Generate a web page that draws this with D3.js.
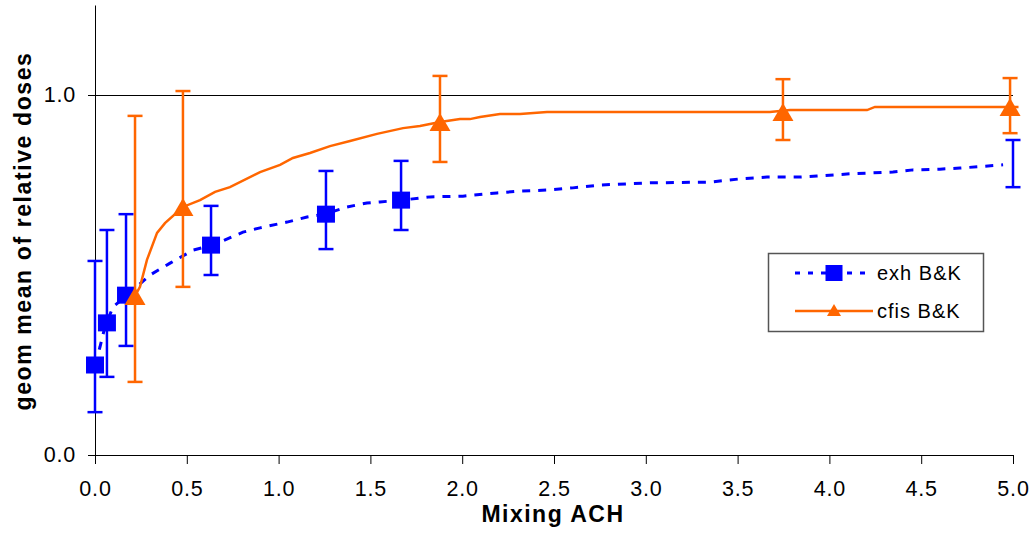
<!DOCTYPE html>
<html><head><meta charset="utf-8">
<script src="https://cdn.jsdelivr.net/npm/d3@7"></script>
<style>
html,body{margin:0;padding:0;background:#fff;}
svg{display:block;font-family:"Liberation Sans",Arial,sans-serif;}
</style></head>
<body>
<svg id="chart" width="1035" height="535"></svg>
<script>
// ---- data ----
const xTicks = [0, 0.5, 1.0, 1.5, 2.0, 2.5, 3.0, 3.5, 4.0, 4.5, 5.0];
const yTicks = [0, 1.0];
const seriesNames = ["exh B&K", "cfis B&K"];

// exh B&K curve
const exhCurveX = [0,0.027,0.054,0.098,0.174,0.300,0.409,0.534,0.643,0.806,0.899,1.046,1.155,1.253,1.373,1.481,1.552,1.672,1.825,2.004,2.190,2.315,2.462,2.603,2.751,3.023,3.350,3.513,3.660,3.840,3.932,4.112,4.205,4.346,4.455,4.602,4.711,4.946];
const exhCurveY = [0.25,0.30,0.356,0.411,0.444,0.50,0.533,0.569,0.583,0.619,0.631,0.647,0.661,0.669,0.689,0.70,0.703,0.708,0.717,0.719,0.728,0.733,0.736,0.742,0.75,0.756,0.758,0.767,0.772,0.772,0.775,0.781,0.783,0.786,0.792,0.794,0.797,0.806];
// exh B&K markers
const exhMarkX = [0, 0.065, 0.169, 0.632, 1.258, 1.667];
const exhMarkY = [0.25, 0.367, 0.444, 0.583, 0.669, 0.708];
// exh B&K error bars
const exhErrX  = [0, 0.065, 0.169, 0.632, 1.258, 1.667, 5.0];
const exhErrHi = [0.539, 0.625, 0.669, 0.692, 0.789, 0.817, 0.875];
const exhErrLo = [0.119, 0.217, 0.303, 0.500, 0.572, 0.625, 0.744];

// cfis B&K curve
const cfisCurveX = [0.218,0.245,0.283,0.338,0.381,0.479,0.572,0.654,0.735,0.899,1.008,1.078,1.171,1.280,1.389,1.536,1.678,1.770,1.879,1.988,2.042,2.097,2.206,2.315,2.462,2.642,3.676,3.785,4.205,4.248,5.03];
const cfisCurveY = [0.442,0.467,0.542,0.617,0.644,0.689,0.708,0.731,0.744,0.786,0.806,0.825,0.839,0.858,0.872,0.892,0.908,0.914,0.925,0.933,0.933,0.939,0.947,0.947,0.953,0.953,0.953,0.958,0.958,0.967,0.967];
// cfis B&K markers + error bars
const cfisMarkX = [0.218, 0.479, 1.879, 3.747, 4.984];
const cfisMarkY = [0.442, 0.689, 0.925, 0.953, 0.967];
const cfisErrHi = [0.942, 1.011, 1.053, 1.044, 1.047];
const cfisErrLo = [0.203, 0.467, 0.814, 0.875, 0.894];

const blue = "#0000FF", orange = "#FF6600";

// ---- chart ----
const svg = d3.select("#chart");
const x = d3.scaleLinear().domain([0, 5]).range([95, 1013]);
const y = d3.scaleLinear().domain([0, 1.25]).range([455, 5]);

// gridline at 1.0
svg.append("line").attr("x1", x(0)).attr("x2", x(5)).attr("y1", y(1) + 0.5).attr("y2", y(1) + 0.5)
  .attr("stroke", "#000").attr("stroke-width", 1).attr("shape-rendering", "crispEdges");

// axes
const xAxis = svg.append("g").attr("transform", `translate(0,${y(0)})`)
  .call(d3.axisBottom(x).tickValues(xTicks).tickFormat(d3.format(".1f")).tickSize(9).tickSizeOuter(0).tickPadding(17));
const yAxis = svg.append("g").attr("transform", `translate(${x(0)},0)`)
  .call(d3.axisLeft(y).tickValues(yTicks).tickFormat(d3.format(".1f")).tickSize(7).tickSizeOuter(0).tickPadding(12));
[xAxis, yAxis].forEach(g => {
  g.select(".domain").attr("stroke", "#000").attr("stroke-width", 1);
  g.selectAll(".tick line").attr("stroke", "#000").attr("stroke-width", 1);
  g.selectAll(".tick text").attr("font-family", "Liberation Sans, Arial, sans-serif")
    .attr("font-size", 21.5).attr("fill", "#000").style("letter-spacing", "0.8px");
});
// extend x axis line left to y tick
svg.append("line").attr("x1", x(0) - 7).attr("x2", x(0)).attr("y1", y(0) + 0.5).attr("y2", y(0) + 0.5).attr("stroke", "#000");

// axis titles
svg.append("text").attr("x", 553).attr("y", 522).attr("text-anchor", "middle")
  .attr("font-size", 23).attr("font-weight", "bold").style("letter-spacing", "1.5px").attr("fill", "#000")
  .text("Mixing ACH");
svg.append("text").attr("transform", "translate(31,231) rotate(-90)").attr("text-anchor", "middle")
  .attr("font-size", 23).attr("font-weight", "bold").style("letter-spacing", "1.6px").attr("fill", "#000")
  .text("geom mean of relative doses");

const line = d3.line().x(d => x(d[0])).y(d => y(d[1]));

// ---- exh series ----
const exhCurve = exhCurveX.map((v, i) => [v, exhCurveY[i]]);
svg.append("path").datum(exhCurve).attr("d", line).attr("fill", "none")
  .attr("stroke", blue).attr("stroke-width", 3).attr("stroke-dasharray", "8,8");
const capW = 15;
exhErrX.forEach((v, i) => {
  const g = svg.append("g").attr("stroke", blue).attr("stroke-width", 2.5);
  g.append("line").attr("x1", x(v)).attr("x2", x(v)).attr("y1", y(exhErrLo[i])).attr("y2", y(exhErrHi[i]));
  g.append("line").attr("x1", x(v) - capW / 2).attr("x2", x(v) + capW / 2).attr("y1", y(exhErrLo[i])).attr("y2", y(exhErrLo[i]));
  g.append("line").attr("x1", x(v) - capW / 2).attr("x2", x(v) + capW / 2).attr("y1", y(exhErrHi[i])).attr("y2", y(exhErrHi[i]));
});
svg.selectAll(".sq").data(exhMarkX.map((v, i) => [v, exhMarkY[i]])).enter().append("rect")
  .attr("x", d => x(d[0]) - 9).attr("y", d => y(d[1]) - 8.5).attr("width", 18).attr("height", 17).attr("fill", blue);

// ---- cfis series ----
const cfisCurve = cfisCurveX.map((v, i) => [v, cfisCurveY[i]]);
svg.append("path").datum(cfisCurve).attr("d", line).attr("fill", "none")
  .attr("stroke", orange).attr("stroke-width", 2.5);
cfisMarkX.forEach((v, i) => {
  const g = svg.append("g").attr("stroke", orange).attr("stroke-width", 2.5);
  g.append("line").attr("x1", x(v)).attr("x2", x(v)).attr("y1", y(cfisErrLo[i])).attr("y2", y(cfisErrHi[i]));
  g.append("line").attr("x1", x(v) - capW / 2).attr("x2", x(v) + capW / 2).attr("y1", y(cfisErrLo[i])).attr("y2", y(cfisErrLo[i]));
  g.append("line").attr("x1", x(v) - capW / 2).attr("x2", x(v) + capW / 2).attr("y1", y(cfisErrHi[i])).attr("y2", y(cfisErrHi[i]));
});
const tri = (cx, cy, w, h) => `M${cx},${cy - h / 2}L${cx + w / 2},${cy + h / 2}L${cx - w / 2},${cy + h / 2}Z`;
svg.selectAll(".tri").data(cfisMarkX.map((v, i) => [v, cfisMarkY[i]])).enter().append("path")
  .attr("d", d => tri(x(d[0]), y(d[1]), 21, 18)).attr("fill", orange);

// ---- legend ----
const lg = svg.append("g");
lg.append("rect").attr("x", 768.5).attr("y", 253.5).attr("width", 215).attr("height", 78)
  .attr("fill", "#fff").attr("stroke", "#555").attr("stroke-width", 1.5);
const rows = [273, 311];
lg.append("line").attr("x1", 795).attr("x2", 873).attr("y1", rows[0]).attr("y2", rows[0])
  .attr("stroke", blue).attr("stroke-width", 3).attr("stroke-dasharray", "5,8");
lg.append("rect").attr("x", 834 - 8.5).attr("y", rows[0] - 8).attr("width", 17).attr("height", 16).attr("fill", blue);
lg.append("line").attr("x1", 795).attr("x2", 873).attr("y1", rows[1]).attr("y2", rows[1])
  .attr("stroke", orange).attr("stroke-width", 2.5);
lg.append("path").attr("d", tri(834, rows[1] - 1, 14, 12)).attr("fill", orange);
seriesNames.forEach((n, i) => {
  lg.append("text").attr("x", 877).attr("y", rows[i] + 7).attr("font-size", 20)
    .style("letter-spacing", "1px").attr("fill", "#000").text(n);
});
</script>
</body></html>
